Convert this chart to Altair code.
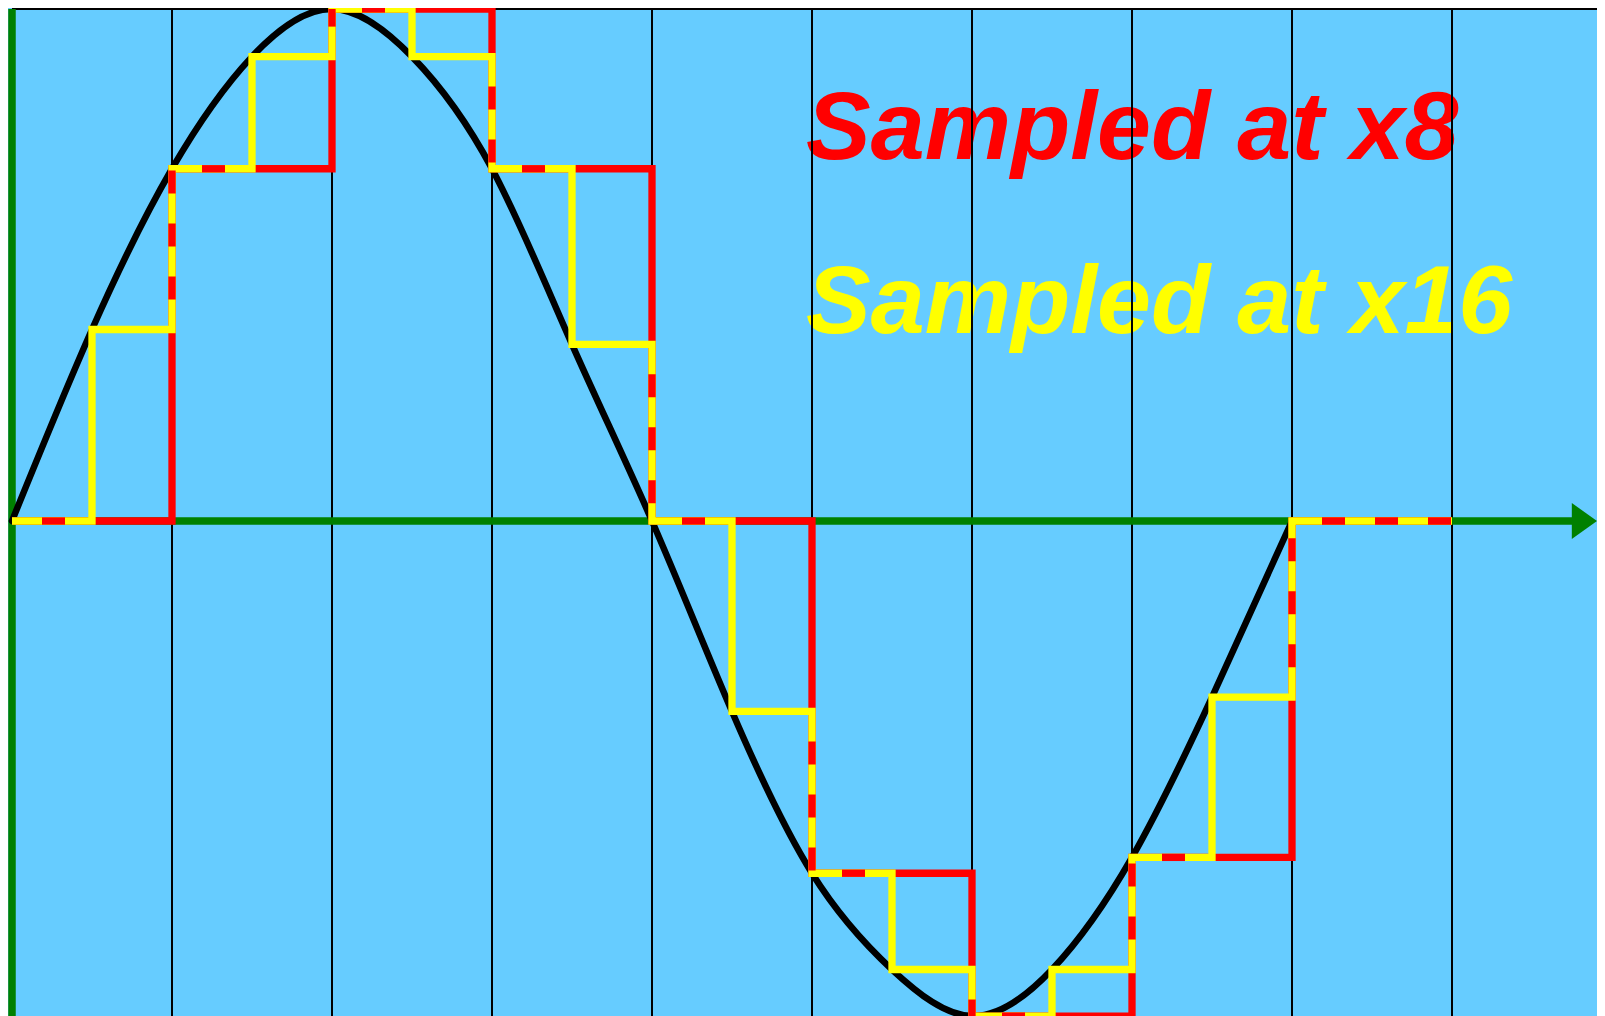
import altair as alt
import pandas as pd

# ---------------- data ----------------
# positions are in "sample-period" units (one grid column = 1), values normalised to the peak (=1)
x8_u = [0, 1, 2, 3, 4, 5, 6, 7, 8]
x8_v = [0.0, 0.688, 1.0, 0.688, 0.0, -0.688, -0.967, -0.657, 0.0]

x16_u = [0, 0.5, 1, 1.5, 2, 2.5, 3, 3.5, 4, 4.5, 5, 5.5, 6, 6.5, 7, 7.5, 8]
x16_v = [0.0, 0.374, 0.688, 0.907, 1.0, 0.907, 0.688, 0.345, 0.0,
         -0.372, -0.688, -0.876, -0.967, -0.876, -0.657, -0.344, 0.0]

step_end_u = 9  # last held sample runs to this column

wave_u = [0, 0.5, 1, 1.5, 2, 2.5, 3, 3.5, 4, 4.5, 5, 5.5, 6, 6.5, 7, 7.5, 8]
wave_v = [0.0, 0.374, 0.688, 0.907, 1.0, 0.907, 0.688, 0.345, 0.0,
          -0.372, -0.688, -0.876, -0.967, -0.876, -0.657, -0.344, 0.0]

grid_u = [1, 2, 3, 4, 5, 6, 7, 8, 9]
top_v = 1.0
axis_end_u = 9.78
arrow_u = 9.8275

labels = ["Sampled at x8", "Sampled at x16"]
label_colors = ["#FF0000", "#FFFF00"]
label_u = [4.9625, 4.9625]
label_v = [0.707, 0.367]

# ---------------- scales ----------------
W, H = 1589, 1008
X_DOM = [-0.025, 9.90625]
Y_DOM = [-0.966797, 1.001953]
xs = alt.Scale(domain=X_DOM, nice=False, zero=False)
ys = alt.Scale(domain=Y_DOM, nice=False, zero=False)


def X(f="u"):
    return alt.X(f"{f}:Q", scale=xs, axis=None)


def Y(f="v"):
    return alt.Y(f"{f}:Q", scale=ys, axis=None)


def steps(us, vs, end):
    pts_u = list(us) + [end]
    pts_v = list(vs) + [vs[-1]]
    return pd.DataFrame({"u": pts_u, "v": pts_v})


def segments(us, vs, end):
    xs_ = list(us) + [end]
    segs = []
    for i, v in enumerate(vs):
        segs.append(("h", v, xs_[i], xs_[i + 1]))
        if i + 1 < len(vs) and vs[i + 1] != v:
            segs.append(("v", xs_[i + 1], v, vs[i + 1]))
    return segs


def overlaps(a, b):
    rows = []
    for ka, fa, a0, a1 in a:
        for kb, fb, b0, b1 in b:
            if ka != kb or abs(fa - fb) > 1e-9:
                continue
            lo = max(min(a0, a1), min(b0, b1))
            hi = min(max(a0, a1), max(b0, b1))
            if hi - lo <= 1e-9:
                continue
            s, e = (lo, hi) if b1 >= b0 else (hi, lo)
            if ka == "h":
                rows.append({"u": s, "u2": e, "v": fa, "v2": fa})
            else:
                rows.append({"u": fa, "u2": fa, "v": s, "v2": e})
    return pd.DataFrame(rows)


red_df = steps(x8_u, x8_v, step_end_u)
yel_df = steps(x16_u, x16_v, step_end_u)
ov_df = overlaps(segments(x8_u, x8_v, step_end_u), segments(x16_u, x16_v, step_end_u))
wave_df = pd.DataFrame({"u": wave_u, "v": wave_v})
grid_df = pd.DataFrame({"u": grid_u, "v": [top_v] * len(grid_u), "v2": [Y_DOM[0]] * len(grid_u)})
top_df = pd.DataFrame({"u": [0], "u2": [X_DOM[1]], "v": [top_v]})
gv_df = pd.DataFrame({"u": [0], "v": [top_v], "v2": [Y_DOM[0]]})
gh_df = pd.DataFrame({"u": [0], "u2": [axis_end_u], "v": [0.0]})
arrow_df = pd.DataFrame({"u": [arrow_u], "v": [0.0]})
lab_df = pd.DataFrame({"u": label_u, "v": label_v, "t": labels, "c": label_colors})

# ---------------- layers ----------------
text = alt.Chart(lab_df).mark_text(
    font="Liberation Sans", fontSize=97, fontStyle="italic", fontWeight="bold",
    align="left", baseline="alphabetic"
).encode(x=X(), y=Y(), text="t:N", color=alt.Color("c:N", scale=None))

grid = alt.Chart(grid_df).mark_rule(color="black", strokeWidth=2).encode(
    x=X(), y=Y(), y2="v2:Q")

top = alt.Chart(top_df).mark_rule(color="black", strokeWidth=2).encode(
    x=X(), x2="u2:Q", y=Y())

green_v = alt.Chart(gv_df).mark_rule(color="#008000", strokeWidth=7.5).encode(
    x=X(), y=Y(), y2="v2:Q")
green_h = alt.Chart(gh_df).mark_rule(color="#008000", strokeWidth=7.5).encode(
    x=X(), x2="u2:Q", y=Y())
arrow = alt.Chart(arrow_df).mark_point(
    shape="M-0.7,-1L0.7,0L-0.7,1Z", filled=True, size=1296, color="#008000",
    opacity=1, strokeWidth=0
).encode(x=X(), y=Y())

wave = alt.Chart(wave_df).mark_line(
    color="black", strokeWidth=6.5, interpolate="natural", strokeCap="round"
).encode(x=X(), y=Y())

red = alt.Chart(red_df).mark_line(
    color="#FF0000", strokeWidth=7.3, interpolate="step-after"
).encode(x=X(), y=Y())
yel = alt.Chart(yel_df).mark_line(
    color="#FFFF00", strokeWidth=7.3, interpolate="step-after"
).encode(x=X(), y=Y())
dash = alt.Chart(ov_df).mark_rule(
    color="#FF0000", strokeWidth=7.3, strokeDash=[23, 30], strokeDashOffset=23
).encode(x=X(), x2="u2:Q", y=Y(), y2="v2:Q")

chart = alt.layer(
    text, grid, top, green_v, green_h, arrow, wave, red, yel, dash
).properties(
    width=W, height=H, padding=0,
    autosize=alt.AutoSizeParams(type="none"),
    background="#66CCFF",
).configure_view(stroke=None)

chart.save("out.html", embed_options={"renderer": "svg", "actions": False})
